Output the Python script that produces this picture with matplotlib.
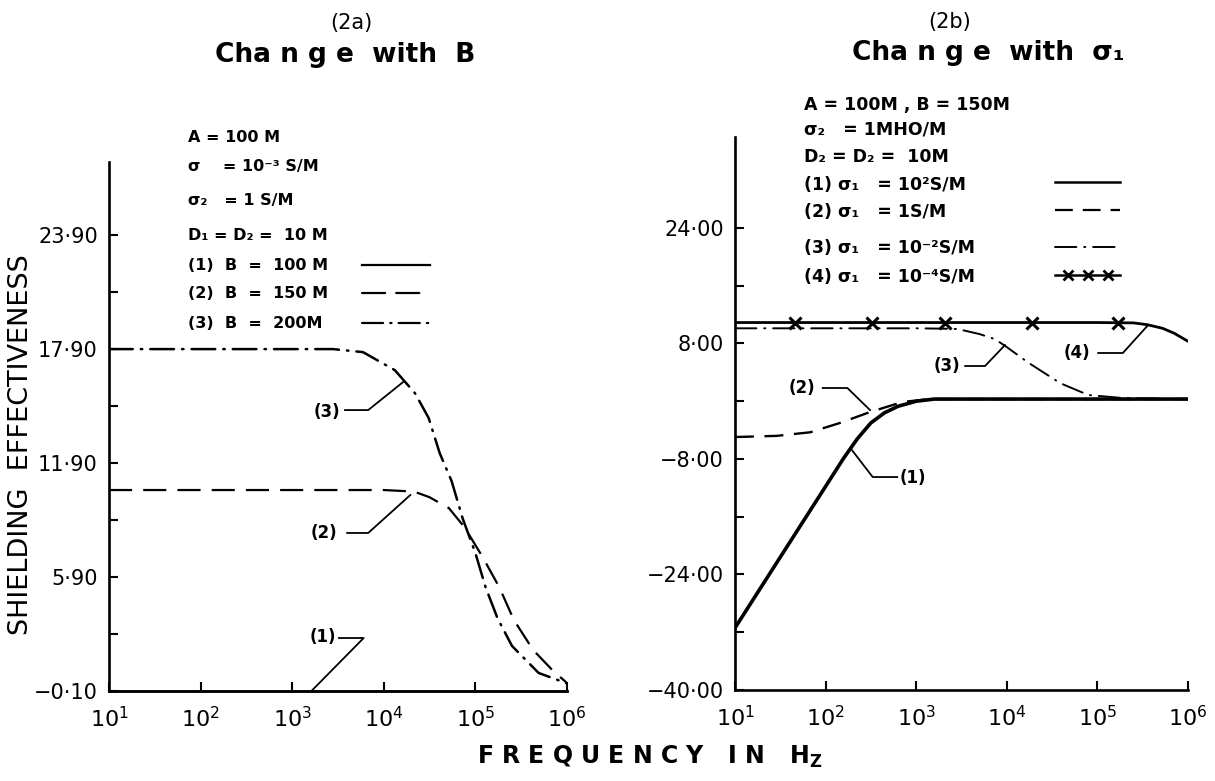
import matplotlib
matplotlib.use("Agg")
import matplotlib.pyplot as plt
import matplotlib.transforms as mtransforms
from matplotlib.lines import Line2D

plt.rcParams['font.family'] = ['DejaVu Sans']
plt.rcParams['mathtext.fontset'] = 'dejavusans'

# ---------------- data ----------------
# Panel (2a): change with B
b100_f = [10, 1e6]
b100_v = [-0.1, -0.1]
b150_f = [10, 100, 1000, 10000, 21400, 31600, 51300, 75900, 120000, 182000, 263000, 427000, 692000, 1e6]
b150_v = [10.48, 10.48, 10.48, 10.48, 10.4, 10.1, 9.53, 8.53, 6.95, 5.37, 3.64, 2.06, 1.0, 0.32]
b200_f = [10, 100, 1000, 2790, 5930, 13200, 21900, 30900, 40700, 55000, 72400, 100000, 129000, 174000, 251000, 490000, 1e6]
b200_v = [17.9, 17.9, 17.9, 17.9, 17.74, 16.79, 15.58, 14.27, 12.43, 10.95, 9.0, 7.16, 5.37, 3.74, 2.27, 0.85, 0.3]

# Panel (2b): change with sigma1
s1_f = [10, 31.6, 100, 158, 224, 316, 447, 631, 1000, 1580, 10000, 100000, 1e6]
s1_v = [-31.4, -21.6, -11.8, -7.9, -5.2, -3.0, -1.6, -0.7, 0.0, 0.3, 0.3, 0.3, 0.3]
s2_f = [10, 28.8, 67.6, 145, 309, 708, 1410, 3160, 1e6]
s2_v = [-4.96, -4.8, -4.3, -3.0, -1.5, -0.1, 0.3, 0.3, 0.3]
s3_f = [10, 1000, 2000, 2880, 5010, 7410, 10000, 17000, 38900, 79400, 191000, 1e6]
s3_v = [10.1, 10.1, 10.05, 10.0, 9.3, 8.6, 7.5, 5.4, 2.5, 0.86, 0.44, 0.3]
s4_f = [10, 100000, 251000, 355000, 525000, 708000, 1e6]
s4_v = [10.9, 10.9, 10.85, 10.6, 10.1, 9.4, 8.3]
s4_mark_f = [46, 324, 2090, 19050, 170000]
s4_mark_v = [10.9, 10.9, 10.9, 10.9, 10.9]

x_ticks = [10, 100, 1000, 10000, 100000, 1000000]
x_ticklabels = ['$10^1$', '$10^2$', '$10^3$', '$10^4$', '$10^5$', '$10^6$']

left_yticks = [-0.1, 5.9, 11.9, 17.9, 23.9]
left_yticklabels = ['\u22120\u00b710', '5\u00b790', '11\u00b790', '17\u00b790', '23\u00b790']
left_yminor = [2.9, 8.9, 14.9, 20.9]
right_yticks = [-40, -24, -8, 8, 24]
right_yticklabels = ['\u221240\u00b700', '\u221224\u00b700', '\u22128\u00b700', '8\u00b700', '24\u00b700']
right_yminor = [-32, -16, 0, 16]

# leader annotations: (label, text(f, v), polyline f, polyline v)
left_notes = [
    ('(3)', (2400, 14.58), [3770, 6760, 16200], [14.69, 14.69, 16.16]),
    ('(2)', (2240, 8.22), [3980, 6760, 19500], [8.22, 8.22, 10.22]),
    ('(1)', (2140, 2.74), [3240, 6030, 1660], [2.69, 2.69, -0.05]),
]
right_notes = [
    ('(2)', (55, 1.83), [93, 174, 309], [1.83, 1.83, -1.22]),
    ('(1)', (912, -10.64), [195, 331, 617], [-6.76, -10.5, -10.5]),
    ('(3)', (2190, 4.88), [3470, 5750, 9550], [4.88, 4.88, 7.78]),
    ('(4)', (58900, 6.68), [102000, 191000, 363000], [6.68, 6.68, 10.55]),
]

W, H = 1215, 781
fig = plt.figure(figsize=(W / 100, H / 100), dpi=100)
fig.patch.set_facecolor('white')
px = mtransforms.Affine2D().scale(1 / W, -1 / H).translate(0, 1) + fig.transFigure


def fax(x0, y0, x1, y1):
    return fig.add_axes([x0 / W, 1 - y1 / H, (x1 - x0) / W, (y1 - y0) / H])


axL = fax(109, 162, 567, 691)
axR = fax(735, 137, 1188, 690)

dash = (0, (10.4, 5))
dashdot = (0, (9.5, 3.2, 0.6, 3.2))
dash_r = (0, (8, 4.5))
dashdot_r = (0, (11, 4, 0.6, 4))

for ax in (axL, axR):
    ax.set_xscale('log')
    ax.set_xlim(10, 1e6)
    for s in ('top', 'right'):
        ax.spines[s].set_visible(False)
    for s in ('left', 'bottom'):
        ax.spines[s].set_linewidth(1.9)
    ax.set_xticks(x_ticks)
    ax.set_xticklabels(x_ticklabels, fontsize=16)
    ax.xaxis.set_minor_locator(matplotlib.ticker.NullLocator())
    ax.tick_params(axis='both', which='both', direction='in', length=6.5, width=1.5)
    ax.tick_params(axis='x', pad=11)
    ax.tick_params(axis='y', labelsize=15, pad=8)
    ax.patch.set_alpha(0)

axL.set_ylim(-0.1, 27.75)
axL.set_yticks(left_yticks)
axL.set_yticklabels(left_yticklabels)
axL.set_yticks(left_yminor, minor=True)

axR.set_ylim(-40, 36.6)
axR.set_yticks(right_yticks)
axR.set_yticklabels(right_yticklabels)
axR.set_yticks(right_yminor, minor=True)

# curves panel (2a)
axL.plot(b100_f, b100_v, color='black', lw=1.8, clip_on=False)
axL.plot(b150_f, b150_v, color='black', lw=1.6, ls=dash)
axL.plot(b200_f, b200_v, color='black', lw=1.8, ls=dashdot, dash_capstyle='round')

# curves panel (2b)
axR.plot(s1_f, s1_v, color='black', lw=2.6, solid_capstyle='round')
axR.plot(s2_f, s2_v, color='black', lw=1.7, ls=dash_r)
axR.plot(s3_f, s3_v, color='black', lw=1.4, ls=dashdot_r, dash_capstyle='round')
axR.plot(s4_f, s4_v, color='black', lw=2.0)
axR.plot(s4_mark_f, s4_mark_v, ls='none', marker='x', ms=8, mew=2.2, color='black')

for ax, notes in ((axL, left_notes), (axR, right_notes)):
    for lab, (tf, tv), lf, lv in notes:
        ax.text(tf, tv, lab, ha='center', va='center', fontsize=12, fontweight='bold')
        ax.plot(lf, lv, color='black', lw=1.3)

# titles
fig.text(351 / W, 1 - 23 / H, '(2a)', ha='center', va='center', fontsize=15)
fig.text(345 / W, 1 - 55 / H, 'Cha n g e  with  B', ha='center', va='center', fontsize=19, fontweight='bold')
fig.text(950 / W, 1 - 22 / H, '(2b)', ha='center', va='center', fontsize=15)
fig.text(988 / W, 1 - 53 / H, 'Cha n g e  with  \u03c3\u2081', ha='center', va='center', fontsize=19, fontweight='bold')

# axis labels
fig.text(21 / W, 1 - 445 / H, 'SHIELDING  EFFECTIVENESS', rotation=90, ha='center', va='center', fontsize=19.5)
fig.text(650 / W, 1 - 757 / H, 'F R E Q U E N C Y   I N   H$_\\mathregular{Z}$', ha='center', va='center',
         fontsize=17, fontweight='bold')

# legend panel (2a)
left_leg = [
    ('A = 100 M', 137), ('\u03c3    = 10\u207b\u00b3 S/M', 166), ('\u03c3\u2082   = 1 S/M', 200),
    ('D\u2081 = D\u2082 =  10 M', 235), ('(1)  B  =  100 M', 265), ('(2)  B  =  150 M', 293), ('(3)  B  =  200M', 323),
]
for t, y in left_leg:
    fig.text(188, y, t, transform=px, ha='left', va='center', fontsize=11.5, fontweight='bold')
for y, style in ((265, '-'), (293, dash), (323, dashdot)):
    fig.add_artist(Line2D([362, 430], [y, y], transform=px, color='black', lw=1.6, ls=style, dash_capstyle='round'))

# legend panel (2b)
right_leg = [
    ('A = 100M , B = 150M', 105), ('\u03c3\u2082   = 1MHO/M', 130), ('D\u2082 = D\u2082 =  10M', 157),
    ('(1) \u03c3\u2081   = 10\u00b2S/M', 185), ('(2) \u03c3\u2081   = 1S/M', 212),
    ('(3) \u03c3\u2081   = 10\u207b\u00b2S/M', 248), ('(4) \u03c3\u2081   = 10\u207b\u2074S/M', 277),
]
for t, y in right_leg:
    fig.text(804, y, t, transform=px, ha='left', va='center', fontsize=12.5, fontweight='bold')
fig.add_artist(Line2D([1055, 1120], [182, 182], transform=px, color='black', lw=1.8))
fig.add_artist(Line2D([1055, 1120], [210, 210], transform=px, color='black', lw=1.6, ls=dash_r))
fig.add_artist(Line2D([1055, 1120], [247, 247], transform=px, color='black', lw=1.4, ls=dashdot_r,
                      dash_capstyle='round'))
fig.add_artist(Line2D([1055, 1120], [275, 275], transform=px, color='black', lw=1.8))
fig.add_artist(Line2D([1068, 1088, 1108], [275, 275, 275], transform=px, ls='none', marker='x', ms=7, mew=2,
                      color='black'))

fig.savefig('out.png', dpi=100, facecolor='white')
